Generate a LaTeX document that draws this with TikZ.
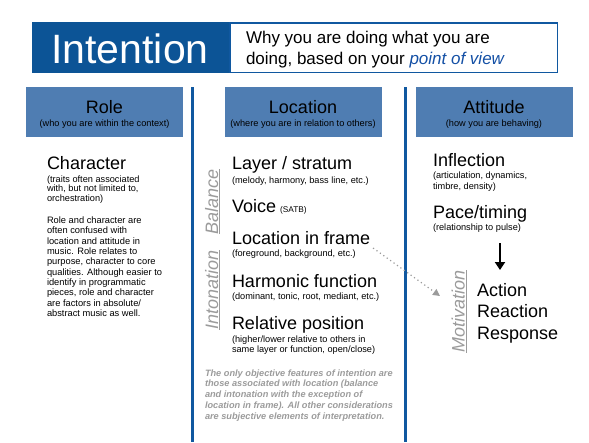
\documentclass[tikz,border=0pt]{standalone}
\usepackage{fontspec}
\setmainfont{Liberation Sans}
\usetikzlibrary{arrows.meta}
\definecolor{darkblue}{RGB}{12,84,150}
\definecolor{hdrblue}{RGB}{79,125,178}
\definecolor{lineblue}{RGB}{16,88,160}
\definecolor{notegrey}{RGB}{155,155,155}
\definecolor{povblue}{RGB}{20,80,165}
\newcommand\myfs[2]{\fontsize{#1}{#2}\selectfont}
\begin{document}
\begin{tikzpicture}[x=1pt,y=-1pt,
  every node/.style={inner sep=0pt, outer sep=0pt},
  colhead/.style={fill=hdrblue, minimum width=157pt, minimum height=50pt, anchor=north west},
  coltitle/.style={anchor=base, font=\myfs{18}{21}},
  colsub/.style={anchor=base, font=\myfs{9.2}{11}},
  item/.style={anchor=base west, font=\myfs{18}{21.6}},
  note/.style={anchor=base west, align=left, font=\myfs{9.2}{10}},
  vlabel/.style={anchor=base, rotate=90, text=notegrey, font=\myfs{18}{21}\itshape},
  divider/.style={lineblue, line width=3pt}]
\useasboundingbox (0,0) rectangle (589,442);

% header
\fill[darkblue] (32,22) rectangle (229,73);
\node[anchor=base, text=white, font=\myfs{41}{45}] (intention) at (130,63) {Intention};
\draw[lineblue, line width=1.5pt] (229.75,22.75) rectangle (557.25,72.25);
% multi-line nodes: base = baseline of last line
\node[anchor=base west, align=left, font=\myfs{17}{21}] (why) at (246,64)
  {Why you are doing what you are\\doing, based on your \textcolor{povblue}{\itshape point of view}};

% column headers
\node[colhead] (rolebox) at (26,87) {};
\node[coltitle] (roletitle) at (104.5,113) {Role};
\node[colsub] (rolesub) at (104.5,126) {(who you are within the context)};
\node[colhead] (locbox) at (225,87) {};
\node[coltitle] (loctitle) at (303,113) {Location};
\node[colsub] (locsub) at (303,126) {(where you are in relation to others)};
\node[colhead] (attbox) at (416,87) {};
\node[coltitle] (atttitle) at (494,113) {Attitude};
\node[colsub] (attsub) at (494,126) {(how you are behaving)};

% dividers
\coordinate (d1top) at (192,87); \coordinate (d1bot) at (192,442);
\coordinate (d2top) at (405,87); \coordinate (d2bot) at (405,442);
\draw[divider] (d1top) -- (d1bot);
\draw[divider] (d2top) -- (d2bot);

% role column
\node[item] (character) at (47,169) {Character};
\node[note, font=\myfs{9.2}{9.75}] (charnote) at (47,201.5) {(traits often associated\\with, but not limited to,\\orchestration)};
\node[note, font=\myfs{9.3}{10.35}] (rolepara) at (47,316.65) {Role and character are\\often confused with\\location and attitude in\\music. Role relates to\\purpose, character to core\\qualities. Although easier to\\identify in programmatic\\pieces, role and character\\are factors in absolute/\\abstract music as well.};

% location column
\node[item] (layer) at (232,169) {Layer / stratum};
\node[note] (layernote) at (232,183) {(melody, harmony, bass line, etc.)};
\node[item] (voice) at (232,212) {Voice};
\node[anchor=base west, font=\myfs{8.3}{10}] (satb) at ([xshift=4pt]voice.base east) {(SATB)};
\node[item] (locframe) at (232,244) {Location in frame};
\node[note] (locframenote) at (232,256) {(foreground, background, etc.)};
\node[item] (harm) at (232,287) {Harmonic function};
\node[note] (harmnote) at (232,299) {(dominant, tonic, root, mediant, etc.)};
\node[item] (relpos) at (232,329) {Relative position};
\node[note] (relposnote) at (232,352) {(higher/lower relative to others in\\same layer or function, open/close)};
\node[anchor=base west, align=left, text=notegrey, font=\myfs{9.2}{10.8}\bfseries\itshape] (objnote) at (205,419.2)
  {The only objective features of intention are\\those associated with location (balance\\and intonation with the exception of\\location in frame). All other considerations\\are subjective elements of interpretation.};
\node[vlabel] (balance) at (218,201.5) {\underline{Balance}};
\node[vlabel] (intonation) at (218,290) {\underline{Intonation}};

% attitude column
\node[item] (inflection) at (433,166) {Inflection};
\node[note, font=\myfs{9.2}{11}] (inflnote) at (433,189) {(articulation, dynamics,\\timbre, density)};
\node[item] (pace) at (433,218) {Pace/timing};
\node[note] (pacenote) at (433,230) {(relationship to pulse)};
\coordinate (arrtop) at (500,243);
\coordinate (arrbot) at (500,270);
\draw[line width=2pt, -{Triangle[width=10pt,length=8pt]}] (arrtop) -- (arrbot);
\node[item, align=left] (actions) at (477,339.2) {Action\\Reaction\\Response};
\node[vlabel] (motivation) at (464.5,311.5) {\underline{Motivation}};

% dotted link
\coordinate (dotend) at (440,296);
\draw[notegrey, line width=1.2pt, dash pattern=on 1.2pt off 3pt, -{Triangle[width=7pt,length=7pt]}]
  ([shift={(3,4)}]locframe.base east) -- (dotend);
\end{tikzpicture}
\end{document}
